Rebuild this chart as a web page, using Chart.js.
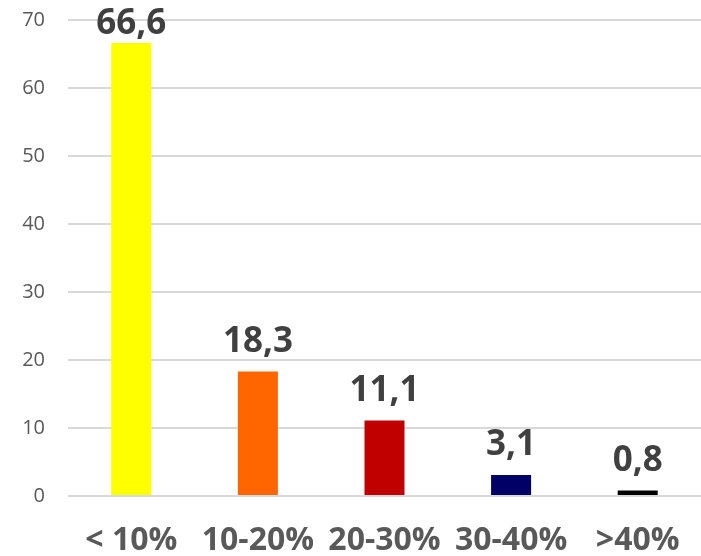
<!DOCTYPE html>
<html>
<head>
<meta charset="utf-8">
<script src="https://cdn.jsdelivr.net/npm/chart.js@4"></script>
<style>
  html, body { margin: 0; padding: 0; background: #fff; }
  #wrap { width: 701px; height: 556px; }
</style>
</head>
<body>
<div id="wrap"><canvas id="chart" width="701" height="556"></canvas></div>
<script>
// chart data
const categories = ['< 10%', '10-20%', '20-30%', '30-40%', '>40%'];
const values = [66.6, 18.3, 11.1, 3.1, 0.8];
const barColors = ['#ffff00', '#ff6600', '#c00000', '#000066', '#000000'];
const yTicks = [0, 10, 20, 30, 40, 50, 60, 70];

// draws the value above each bar, with a comma as decimal mark
const valueLabels = {
    id: 'valueLabels',
    afterDatasetsDraw(chart) {
        const ctx = chart.ctx;
        const meta = chart.getDatasetMeta(0);
        ctx.save();
        ctx.font = 'bold 35px "Open Sans", sans-serif';
        ctx.fillStyle = '#404040';
        ctx.textAlign = 'center';
        ctx.textBaseline = 'alphabetic';
        meta.data.forEach((bar, i) => {
            const text = values[i].toFixed(1).replace('.', ',');
            // push the label down if it would leave the canvas at the top
            ctx.fillText(text, bar.x, Math.max(bar.y - 20, 34));
        });
        ctx.restore();
    }
};

// keep the plot area fixed, labels may spill over its edges
function noPadding(axis) {
    axis.paddingLeft = 0;
    axis.paddingRight = 0;
    axis.paddingTop = 0;
    axis.paddingBottom = 0;
}

new Chart(document.getElementById('chart'), {
    type: 'bar',
    data: {
        labels: categories,
        datasets: [{
            data: values,
            backgroundColor: barColors,
            borderWidth: 0,
            barPercentage: 0.316,
            categoryPercentage: 1
        }]
    },
    options: {
        responsive: false,
        animation: false,
        layout: { padding: { top: 20, right: 0, bottom: 0, left: 0 } },
        plugins: {
            legend: { display: false },
            tooltip: { enabled: false }
        },
        scales: {
            x: {
                grid: { display: false, drawTicks: false },
                border: { display: false },
                afterFit: axis => { noPadding(axis); axis.height = 60; },
                ticks: {
                    color: '#595959',
                    padding: 26,
                    maxRotation: 0,
                    autoSkip: false,
                    font: { family: '"Open Sans", sans-serif', size: 32, weight: 'bold' }
                }
            },
            y: {
                min: 0,
                max: 70,
                afterBuildTicks: axis => { axis.ticks = yTicks.map(v => ({ value: v })); },
                afterFit: axis => { noPadding(axis); axis.width = 68; },
                grid: { color: '#d9d9d9', lineWidth: 2, drawTicks: false },
                border: { display: false },
                ticks: {
                    color: '#595959',
                    padding: 23,
                    font: { family: '"Open Sans", sans-serif', size: 20 }
                }
            }
        }
    },
    plugins: [valueLabels]
});
</script>
</body>
</html>
